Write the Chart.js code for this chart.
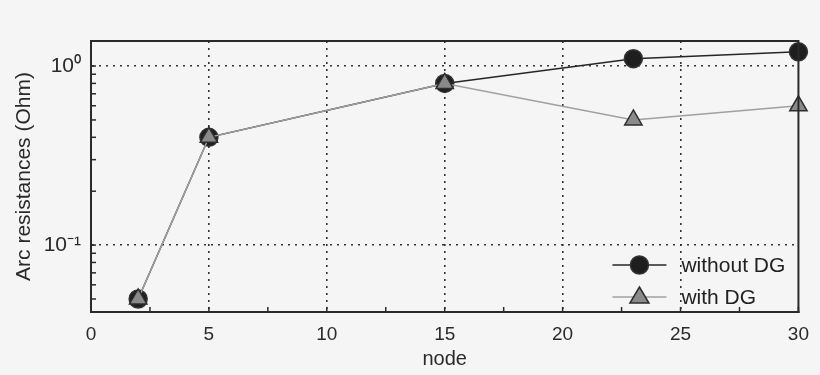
<!DOCTYPE html>
<html>
<head>
<meta charset="utf-8">
<script src="https://cdn.jsdelivr.net/npm/chart.js@4"></script>
<style>
  html, body { margin: 0; padding: 0; background: #f5f5f5; }
  #wrap { width: 820px; height: 375px; }
</style>
</head>
<body>
<div id="wrap"><canvas id="myChart" width="820" height="375"></canvas></div>
<script>
const nodes = [2, 5, 15, 23, 30];
const withoutDG = [0.05, 0.40, 0.80, 1.10, 1.20];
const withDG = [0.05, 0.40, 0.80, 0.50, 0.60];
const xTicks = [0, 2.5, 5, 7.5, 10, 12.5, 15, 17.5, 20, 22.5, 25, 27.5, 30];
const yTicks = [0.05, 0.06, 0.07, 0.08, 0.09, 0.1, 0.2, 0.3, 0.4, 0.5, 0.6, 0.7, 0.8, 0.9, 1];
const yLabels = { 0.1: '10\u207B\u00B9', 1: '10\u2070' };

const FONT = "'Liberation Sans', Arial, sans-serif";
const ink = '#2a2a2a';

const toPoints = (ys) => nodes.map((x, i) => ({ x: x, y: ys[i] }));

// inward minor/major ticks, top/right frame
const framePlugin = {
    id: 'frame',
    afterDatasetsDraw(chart) {
        const { ctx, chartArea: a, scales } = chart;
        ctx.save();
        ctx.strokeStyle = ink;
        ctx.lineWidth = 1.5;
        scales.x.ticks.forEach(t => {
            const px = scales.x.getPixelForValue(t.value);
            ctx.beginPath();
            ctx.moveTo(px, a.bottom);
            ctx.lineTo(px, a.bottom - 5);
            ctx.stroke();
        });
        scales.y.ticks.forEach(t => {
            const py = scales.y.getPixelForValue(t.value);
            ctx.beginPath();
            ctx.moveTo(a.left, py);
            ctx.lineTo(a.left + 5, py);
            ctx.stroke();
        });
        ctx.lineWidth = 2;
        ctx.strokeRect(a.left, a.top, a.right - a.left, a.bottom - a.top);
        ctx.restore();
    }
};

// legend inside lower right of plot
const legendPlugin = {
    id: 'innerLegend',
    afterDraw(chart) {
        const { ctx, chartArea: a } = chart;
        ctx.save();
        ctx.font = '21px ' + FONT;
        ctx.textBaseline = 'middle';
        chart.data.datasets.forEach((ds, i) => {
            const y = a.bottom - 47 + i * 32;
            const x0 = a.right - 186;
            const cx = x0 + 27;
            ctx.strokeStyle = ds.borderColor;
            ctx.lineWidth = ds.borderWidth;
            ctx.beginPath();
            ctx.moveTo(x0, y);
            ctx.lineTo(x0 + 54, y);
            ctx.stroke();
            ctx.fillStyle = ds.pointBackgroundColor;
            ctx.strokeStyle = ds.pointBorderColor;
            ctx.lineWidth = ds.pointBorderWidth;
            ctx.beginPath();
            if (ds.pointStyle === 'triangle') {
                const r = ds.pointRadius;
                ctx.moveTo(cx, y - r);
                ctx.lineTo(cx + r * 0.95, y + r * 0.6);
                ctx.lineTo(cx - r * 0.95, y + r * 0.6);
                ctx.closePath();
            } else {
                ctx.arc(cx, y, ds.pointRadius, 0, Math.PI * 2);
            }
            ctx.fill();
            ctx.stroke();
            ctx.fillStyle = '#222';
            ctx.fillText(ds.label, x0 + 69, y + 1);
        });
        ctx.restore();
    }
};

const ctx = document.getElementById('myChart').getContext('2d');

const myChart = new Chart(ctx, {
    type: 'line',
    data: {
        datasets: [{
            label: 'without DG',
            data: toPoints(withoutDG),
            borderColor: '#262626',
            borderWidth: 1.5,
            pointStyle: 'circle',
            pointRadius: 9,
            pointBackgroundColor: '#1e1e1e',
            pointBorderColor: '#333',
            pointBorderWidth: 1.5,
            order: 2,
            clip: false
        }, {
            label: 'with DG',
            data: toPoints(withDG),
            borderColor: '#a0a0a0',
            borderWidth: 1.5,
            pointStyle: 'triangle',
            pointRadius: 10,
            pointBackgroundColor: '#8a8a8a',
            pointBorderColor: '#2e2e2e',
            pointBorderWidth: 1.5,
            order: 1,
            clip: false
        }]
    },
    options: {
        responsive: false,
        animation: false,
        layout: { padding: { top: 41, right: 15, left: 0, bottom: 0 } },
        plugins: {
            legend: { display: false },
            tooltip: { enabled: false }
        },
        scales: {
            x: {
                type: 'linear',
                min: 0,
                max: 30,
                afterBuildTicks: (s) => { s.ticks = xTicks.map(v => ({ value: v })); },
                afterFit: (s) => { s.height = 63; },
                ticks: {
                    autoSkip: false,
                    maxRotation: 0,
                    padding: 11,
                    color: '#2a2a2a',
                    font: { family: FONT, size: 19 },
                    callback: (v) => (v % 5 === 0 ? String(v) : '')
                },
                grid: {
                    drawTicks: false,
                    lineWidth: 1.6,
                    color: (c) => {
                        const v = c.tick && c.tick.value;
                        return (v % 5 === 0 && v > 0 && v < 30) ? '#333' : 'rgba(0,0,0,0)';
                    }
                },
                border: { display: true, color: ink, width: 2, dash: [2, 5] },
                title: {
                    display: true,
                    text: 'node',
                    color: '#2a2a2a',
                    font: { family: FONT, size: 20 },
                    padding: { top: 0 }
                }
            },
            y: {
                type: 'logarithmic',
                min: 0.0423,
                max: 1.38,
                afterBuildTicks: (s) => { s.ticks = yTicks.map(v => ({ value: v })); },
                afterFit: (s) => { s.width = 91; },
                ticks: {
                    autoSkip: false,
                    padding: 10,
                    color: '#2a2a2a',
                    font: { family: FONT, size: 21 },
                    callback: (v) => yLabels[v] || ''
                },
                grid: {
                    drawTicks: false,
                    lineWidth: 1.6,
                    color: (c) => {
                        const v = c.tick && c.tick.value;
                        return (v === 1 || v === 0.1) ? '#333' : 'rgba(0,0,0,0)';
                    }
                },
                border: { display: true, color: ink, width: 2, dash: [2, 5] },
                title: {
                    display: true,
                    text: 'Arc resistances (Ohm)',
                    color: '#2a2a2a',
                    font: { family: FONT, size: 21 },
                    padding: { top: 12, bottom: 0 }
                }
            }
        }
    },
    plugins: [framePlugin, legendPlugin]
});
</script>
</body>
</html>
